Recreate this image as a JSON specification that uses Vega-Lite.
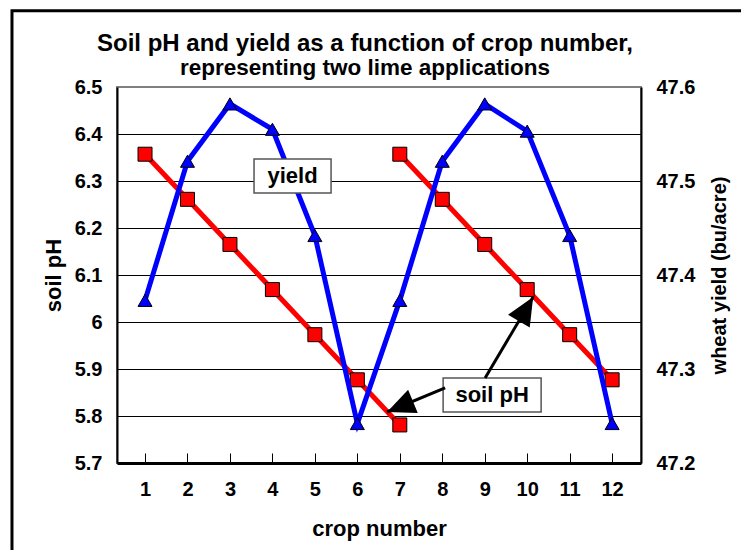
{
  "$schema": "https://vega.github.io/schema/vega-lite/v6.json",
  "width": 524,
  "height": 376,
  "autosize": {"type": "none"},
  "padding": {"left": 117, "top": 87, "right": 100, "bottom": 87},
  "background": "white",
  "config": {
    "font": "Liberation Sans",
    "view": {"stroke": "#808080", "strokeWidth": 2},
    "axis": {
      "labelFont": "Liberation Sans",
      "titleFont": "Liberation Sans",
      "labelColor": "black",
      "titleColor": "black",
      "labelFontWeight": "bold",
      "titleFontWeight": "bold",
      "labelFlush": false,
      "labelOverlap": false
    }
  },
  "title": {
    "text": "Soil pH and yield as a function of crop number,",
    "subtitle": "representing two lime applications",
    "font": "Liberation Sans",
    "subtitleFont": "Liberation Sans",
    "fontSize": 24,
    "subtitleFontSize": 22.5,
    "fontWeight": "bold",
    "subtitleFontWeight": "bold",
    "color": "black",
    "subtitleColor": "black",
    "anchor": "middle",
    "frame": "group",
    "dx": -14,
    "offset": -70,
    "subtitlePadding": 1
  },
  "datasets": {
    "ph": [
      {"crop": 1, "ph": 6.357, "seg": "a"},
      {"crop": 2, "ph": 6.261, "seg": "a"},
      {"crop": 3, "ph": 6.165, "seg": "a"},
      {"crop": 4, "ph": 6.069, "seg": "a"},
      {"crop": 5, "ph": 5.973, "seg": "a"},
      {"crop": 6, "ph": 5.877, "seg": "a"},
      {"crop": 7, "ph": 5.781, "seg": "a"},
      {"crop": 7, "ph": 6.357, "seg": "b"},
      {"crop": 8, "ph": 6.261, "seg": "b"},
      {"crop": 9, "ph": 6.165, "seg": "b"},
      {"crop": 10, "ph": 6.069, "seg": "b"},
      {"crop": 11, "ph": 5.973, "seg": "b"},
      {"crop": 12, "ph": 5.877, "seg": "b"}
    ],
    "yield": [
      {"crop": 1, "yield": 47.373},
      {"crop": 2, "yield": 47.521},
      {"crop": 3, "yield": 47.582},
      {"crop": 4, "yield": 47.555},
      {"crop": 5, "yield": 47.442},
      {"crop": 6, "yield": 47.242},
      {"crop": 7, "yield": 47.373},
      {"crop": 8, "yield": 47.521},
      {"crop": 9, "yield": 47.582},
      {"crop": 10, "yield": 47.553},
      {"crop": 11, "yield": 47.442},
      {"crop": 12, "yield": 47.242}
    ],
    "notes": [
      {"label": "yield", "x1": 3.567, "x2": 5.381, "y1": 6.347, "y2": 6.2745, "cx": 4.474, "cy": 6.311},
      {"label": "soil pH", "x1": 8.02, "x2": 10.328, "y1": 5.881, "y2": 5.8085, "cx": 9.174, "cy": 5.845}
    ],
    "arrows": [
      {"id": 1, "x": 8.067, "y": 5.86, "xe": 6.7, "ye": 5.8085},
      {"id": 2, "x": 9.009, "y": 5.881, "xe": 10.14, "ye": 6.053}
    ]
  },
  "layer": [
    {
      "layer": [
        {
          "data": {"values": [{}]},
          "mark": {"type": "rect", "fill": "transparent", "stroke": "black", "strokeWidth": 3},
          "encoding": {
            "x": {"datum": -2.133, "type": "quantitative", "title": "crop number"},
            "x2": {"datum": 15.3},
            "y": {"datum": 6.662, "type": "quantitative", "title": "soil pH"},
            "y2": {"datum": 5.45}
          }
        },
        {
          "data": {"name": "ph"},
          "mark": {"type": "line", "color": "#FF0000", "strokeWidth": 5},
          "encoding": {
            "x": {
              "field": "crop",
              "type": "quantitative",
              "title": "crop number",
              "scale": {"domain": [0.34, 12.68], "nice": false, "zero": false},
              "axis": {
                "values": [1, 2, 3, 4, 5, 6, 7, 8, 9, 10, 11, 12],
                "format": "d",
                "grid": false,
                "domainColor": "black",
                "domainWidth": 3,
                "tickColor": "black",
                "tickWidth": 1,
                "tickSize": -10,
                "labelFontSize": 20,
                "labelPadding": 26,
                "titleFontSize": 22,
                "titlePadding": 19
              }
            },
            "y": {
              "field": "ph",
              "type": "quantitative",
              "title": "soil pH",
              "scale": {"domain": [5.7, 6.5], "nice": false, "zero": false},
              "axis": {
                "values": [5.7, 5.8, 5.9, 6.0, 6.1, 6.2, 6.3, 6.4, 6.5],
                "format": "~g",
                "ticks": false,
                "grid": true,
                "gridColor": {"condition": {"test": "datum.value > 6.45", "value": "#808080"}, "value": "black"},
                "gridWidth": 1,
                "domainColor": "black",
                "domainWidth": 2,
                "labelFontSize": 20,
                "labelPadding": 15,
                "titleFontSize": 22,
                "titlePadding": 9
              }
            },
            "detail": {"field": "seg"}
          }
        },
        {
          "data": {"name": "ph"},
          "mark": {"type": "point", "shape": "square", "filled": true, "fill": "#FF0000", "stroke": "black", "strokeWidth": 1, "size": 196, "opacity": 1},
          "encoding": {
            "x": {"field": "crop", "type": "quantitative", "title": "crop number"},
            "y": {"field": "ph", "type": "quantitative", "title": "soil pH"}
          }
        }
      ]
    },
    {
      "layer": [
        {
          "data": {"name": "yield"},
          "mark": {"type": "line", "color": "#0000FF", "strokeWidth": 5},
          "encoding": {
            "x": {"field": "crop", "type": "quantitative", "title": "crop number"},
            "y": {
              "field": "yield",
              "type": "quantitative",
              "title": "wheat yield (bu/acre)",
              "scale": {"domain": [47.2, 47.6], "nice": false, "zero": false},
              "axis": {
                "orient": "right",
                "values": [47.2, 47.3, 47.4, 47.5, 47.6],
                "format": "~g",
                "ticks": false,
                "grid": false,
                "domainColor": "black",
                "domainWidth": 2,
                "labelFontSize": 20,
                "labelPadding": 15,
                "titleFontSize": 20,
                "titleAngle": 270,
                "titleBaseline": "top",
                "titlePadding": 15
              }
            }
          }
        },
        {
          "data": {"name": "yield"},
          "mark": {"type": "point", "shape": "triangle-up", "filled": true, "fill": "#0000FF", "stroke": "black", "strokeWidth": 1, "size": 196, "opacity": 1},
          "encoding": {
            "x": {"field": "crop", "type": "quantitative", "title": "crop number"},
            "y": {"field": "yield", "type": "quantitative", "title": "wheat yield (bu/acre)"}
          }
        }
      ]
    },
    {
      "layer": [
        {
          "data": {"name": "notes"},
          "mark": {"type": "rect", "fill": "white", "stroke": "#555555", "strokeWidth": 1.5},
          "encoding": {
            "x": {"field": "x1", "type": "quantitative", "title": "crop number"},
            "x2": {"field": "x2"},
            "y": {"field": "y1", "type": "quantitative", "scale": {"domain": [5.7, 6.5], "nice": false, "zero": false}, "axis": null},
            "y2": {"field": "y2"}
          }
        },
        {
          "data": {"name": "notes"},
          "mark": {"type": "text", "fontSize": 22, "fontWeight": "bold", "color": "black", "align": "center", "baseline": "middle"},
          "encoding": {
            "x": {"field": "cx", "type": "quantitative", "title": "crop number"},
            "y": {"field": "cy", "type": "quantitative", "axis": null},
            "text": {"field": "label"}
          }
        },
        {
          "data": {"name": "arrows"},
          "mark": {"type": "rule", "color": "black", "strokeWidth": 3},
          "encoding": {
            "x": {"field": "x", "type": "quantitative", "title": "crop number"},
            "y": {"field": "y", "type": "quantitative", "axis": null},
            "x2": {"field": "xe"},
            "y2": {"field": "ye"}
          }
        },
        {
          "data": {"name": "arrows"},
          "transform": [{"filter": "datum.id == 1"}],
          "mark": {"type": "point", "shape": "M0,0L-0.9,2L0.9,2Z", "filled": true, "fill": "black", "strokeWidth": 0, "size": 784, "opacity": 1, "angle": 247.5},
          "encoding": {
            "x": {"field": "xe", "type": "quantitative", "title": "crop number"},
            "y": {"field": "ye", "type": "quantitative", "axis": null}
          }
        },
        {
          "data": {"name": "arrows"},
          "transform": [{"filter": "datum.id == 2"}],
          "mark": {"type": "point", "shape": "M0,0L-0.9,2L0.9,2Z", "filled": true, "fill": "black", "strokeWidth": 0, "size": 784, "opacity": 1, "angle": 30.6},
          "encoding": {
            "x": {"field": "xe", "type": "quantitative", "title": "crop number"},
            "y": {"field": "ye", "type": "quantitative", "axis": null}
          }
        }
      ]
    }
  ],
  "resolve": {"scale": {"y": "independent"}}
}
